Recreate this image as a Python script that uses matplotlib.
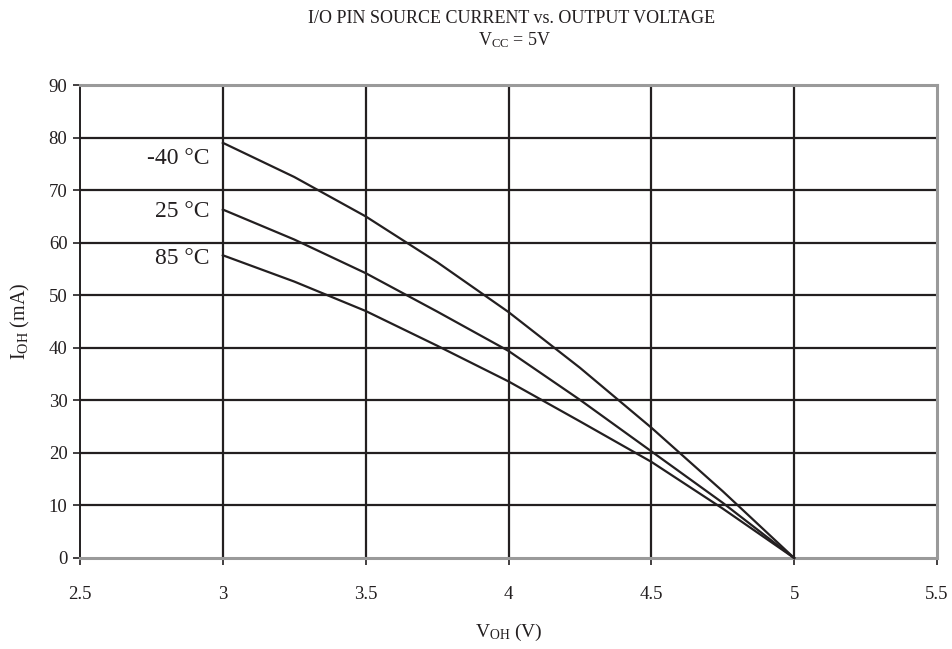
import matplotlib
matplotlib.use("Agg")
import matplotlib.pyplot as plt

plt.rcParams['font.family'] = ['Liberation Serif', 'DejaVu Serif']
plt.rcParams['mathtext.fontset'] = 'custom'
plt.rcParams['mathtext.rm'] = 'Liberation Serif'

# data
voh = [3.0, 3.25, 3.5, 3.75, 4.0, 4.25, 4.5, 4.75, 5.0]
ioh_m40 = [79.0, 72.5, 65.0, 56.3, 46.8, 36.2, 24.8, 12.7, 0.0]
ioh_25 = [66.3, 60.6, 54.2, 46.9, 39.4, 30.1, 20.3, 10.5, 0.0]
ioh_85 = [57.6, 52.6, 47.0, 40.4, 33.6, 26.0, 18.3, 9.4, 0.0]
labels = ["-40 °C", "25 °C", "85 °C"]
label_y = [76, 66, 57]

ink = '#231f20'
grey = '#9a9a9a'

fig = plt.figure(figsize=(9.53, 6.49), dpi=100)
ax = fig.add_axes([80 / 953, 1 - 558 / 649, 857 / 953, 473 / 649])

for y in [ioh_m40, ioh_25, ioh_85]:
    ax.plot(voh, y, color=ink, lw=1.6, zorder=3, clip_on=False)

for txt, ly in zip(labels, label_y):
    ax.text(2.955, ly, txt, ha='right', va='center', fontsize=17, color=ink)

ax.set_xlim(2.5, 5.5)
ax.set_ylim(0, 90)
ax.set_xticks([2.5, 3, 3.5, 4, 4.5, 5, 5.5])
ax.set_xticklabels(['2.5', '3', '3.5', '4', '4.5', '5', '5.5'])
ax.set_yticks(range(0, 100, 10))

for v in [3, 3.5, 4, 4.5, 5]:
    ax.axvline(v, color=ink, lw=1.6, zorder=1)
for h in range(10, 90, 10):
    ax.axhline(h, color=ink, lw=1.6, zorder=1)

for s in ['top', 'right', 'bottom']:
    ax.spines[s].set_color(grey)
    ax.spines[s].set_linewidth(2.2)
ax.spines['left'].set_color(ink)
ax.spines['left'].set_linewidth(1.4)

ax.tick_params(direction='out', length=5, width=1.2, color=ink,
               labelsize=13.5, labelcolor=ink)
ax.tick_params(axis='x', pad=15)
ax.tick_params(axis='y', pad=4)

ax.set_xlabel(r'$\mathregular{V_{OH}}$ (V)', fontsize=14, color=ink, labelpad=14)
ax.set_ylabel(r'$\mathregular{I_{OH}}$ (mA)', fontsize=14.5, color=ink, labelpad=12)

fig.text(0.537, 0.972, 'I/O PIN SOURCE CURRENT vs. OUTPUT VOLTAGE',
         ha='center', va='center', fontsize=13, color=ink)
fig.text(0.54, 0.938, r'$\mathregular{V_{CC}}$ = 5V',
         ha='center', va='center', fontsize=13, color=ink)

fig.savefig('out.png', dpi=100)
